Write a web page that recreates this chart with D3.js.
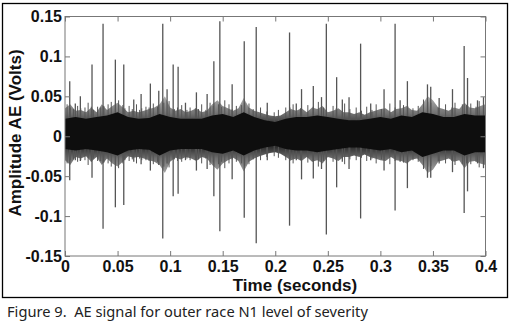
<!DOCTYPE html>
<html>
<head>
<meta charset="utf-8">
<script src="https://cdn.jsdelivr.net/npm/d3@7"></script>
<style>
  html, body { margin: 0; padding: 0; background: #fff; }
  svg { display: block; }
</style>
</head>
<body>
<svg id="chart" width="513" height="324"></svg>
<script>
// ---------- data ----------
const xTicks = [0, 0.05, 0.1, 0.15, 0.2, 0.25, 0.3, 0.35, 0.4];
const xTickLabels = ["0", "0.05", "0.1", "0.15", "0.2", "0.25", "0.3", "0.35", "0.4"];
const yTicks = [-0.15, -0.1, -0.05, 0, 0.05, 0.1, 0.15];
const yTickLabels = ["-0.15", "-0.1", "-0.05", "0", "0.05", "0.1", "0.15"];

// impulse spikes (time s, max V, min V)
const spikeTime = [0.0045,0.0098,0.0146,0.0257,0.0362,0.0479,0.0559,0.0654,0.0724,0.0812,0.0892,0.0930,0.0971,0.1029,0.1076,0.1146,0.1250,0.1352,0.1416,0.1473,0.1590,0.1705,0.1819,0.1924,0.2136,0.2200,0.2250,0.2362,0.2440,0.2486,0.2584,0.2638,0.2702,0.2812,0.2908,0.3035,0.3140,0.3188,0.3257,0.3448,0.3479,0.3559,0.3686,0.3797,0.3829,0.3924,0.3981];
const spikeMax = [0.069,0.041,0.050,0.090,0.141,0.096,0.090,0.046,0.053,0.066,0.057,0.141,0.059,0.090,0.087,0.042,0.055,0.053,0.094,0.144,0.065,0.119,0.137,0.042,0.130,0.041,0.059,0.063,0.049,0.141,0.074,0.046,0.049,0.116,0.041,0.059,0.141,0.045,0.069,0.065,0.062,0.048,0.059,0.113,0.073,0.045,0.049];
const spikeMin = [-0.055,-0.030,-0.031,-0.052,-0.116,-0.089,-0.086,-0.032,-0.035,-0.043,-0.036,-0.128,-0.034,-0.075,-0.072,-0.030,-0.043,-0.041,-0.075,-0.119,-0.054,-0.102,-0.134,-0.030,-0.112,-0.030,-0.054,-0.053,-0.041,-0.123,-0.064,-0.032,-0.041,-0.103,-0.030,-0.043,-0.093,-0.032,-0.065,-0.052,-0.052,-0.034,-0.045,-0.096,-0.069,-0.034,-0.040];

// small bursts in the noise fringe (set 1)
const minorTime = [0.002,0.012,0.019,0.022,0.031,0.041,0.044,0.051,0.061,0.068,0.077,0.084,0.099,0.111,0.119,0.130,0.138,0.152,0.156,0.163,0.175,0.186,0.203,0.210,0.217,0.231,0.241,0.255,0.266,0.277,0.287,0.296,0.309,0.322,0.336,0.341,0.362,0.371,0.386,0.394];
const minorUp = [0.040,0.038,0.036,0.042,0.037,0.040,0.043,0.045,0.038,0.040,0.037,0.041,0.044,0.039,0.036,0.040,0.042,0.045,0.040,0.038,0.041,0.036,0.033,0.036,0.040,0.039,0.043,0.038,0.041,0.036,0.037,0.040,0.041,0.039,0.038,0.046,0.040,0.042,0.041,0.044];
const minorDown = [-0.034,-0.032,-0.030,-0.036,-0.031,-0.034,-0.038,-0.040,-0.031,-0.034,-0.030,-0.035,-0.039,-0.032,-0.030,-0.034,-0.036,-0.040,-0.034,-0.032,-0.035,-0.030,-0.027,-0.030,-0.034,-0.033,-0.038,-0.032,-0.035,-0.030,-0.031,-0.034,-0.035,-0.033,-0.032,-0.041,-0.034,-0.036,-0.035,-0.039];

// small bursts in the noise fringe (set 2)
const burstTime = [0.005,0.008,0.015,0.025,0.027,0.034,0.037,0.048,0.055,0.057,0.064,0.071,0.073,0.080,0.088,0.094,0.104,0.107,0.116,0.124,0.127,0.134,0.141,0.146,0.149,0.159,0.168,0.171,0.179,0.192,0.199,0.214,0.224,0.236,0.246,0.258,0.271,0.282,0.292,0.301,0.314,0.326,0.331,0.345,0.348,0.355,0.368,0.378,0.382,0.391];
const burstUp = [0.036,0.034,0.035,0.037,0.033,0.036,0.038,0.041,0.039,0.035,0.034,0.033,0.035,0.036,0.037,0.042,0.034,0.036,0.033,0.035,0.034,0.033,0.038,0.040,0.037,0.034,0.039,0.042,0.034,0.031,0.030,0.036,0.035,0.037,0.036,0.035,0.034,0.032,0.033,0.034,0.036,0.038,0.035,0.043,0.042,0.036,0.036,0.040,0.039,0.037];
const burstDown = [-0.030,-0.029,-0.030,-0.032,-0.028,-0.031,-0.033,-0.036,-0.034,-0.030,-0.029,-0.028,-0.030,-0.031,-0.032,-0.038,-0.029,-0.031,-0.028,-0.030,-0.029,-0.028,-0.033,-0.035,-0.032,-0.029,-0.034,-0.037,-0.029,-0.026,-0.025,-0.031,-0.030,-0.032,-0.031,-0.030,-0.029,-0.027,-0.028,-0.029,-0.031,-0.033,-0.030,-0.038,-0.037,-0.031,-0.031,-0.035,-0.034,-0.032];

// noise fringe envelope, every 0.005 s
const fringeStep = 0.005;
const fringeUpper = [0.035,0.040,0.032,0.033,0.030,0.036,0.030,0.040,0.033,0.038,
 0.042,0.036,0.030,0.032,0.030,0.032,0.034,0.036,0.040,0.050,
 0.036,0.032,0.034,0.030,0.032,0.035,0.030,0.032,0.040,0.045,
 0.038,0.035,0.032,0.035,0.048,0.036,0.032,0.030,0.028,0.026,
 0.025,0.026,0.030,0.034,0.032,0.035,0.030,0.036,0.034,0.038,
 0.030,0.032,0.035,0.030,0.030,0.028,0.030,0.027,0.030,0.032,
 0.034,0.035,0.030,0.034,0.035,0.038,0.033,0.032,0.040,0.050,
 0.045,0.036,0.034,0.032,0.036,0.034,0.042,0.036,0.035,0.038,0.040];
const fringeLower = [-0.030,-0.036,-0.026,-0.028,-0.025,-0.032,-0.026,-0.036,-0.028,-0.034,
 -0.038,-0.032,-0.025,-0.027,-0.026,-0.028,-0.030,-0.032,-0.036,-0.046,
 -0.032,-0.027,-0.029,-0.026,-0.028,-0.031,-0.026,-0.028,-0.036,-0.042,
 -0.034,-0.030,-0.027,-0.031,-0.044,-0.032,-0.028,-0.025,-0.023,-0.021,
 -0.020,-0.022,-0.026,-0.030,-0.028,-0.031,-0.026,-0.032,-0.030,-0.034,
 -0.026,-0.028,-0.031,-0.026,-0.026,-0.024,-0.026,-0.023,-0.026,-0.028,
 -0.030,-0.031,-0.026,-0.030,-0.031,-0.034,-0.029,-0.028,-0.036,-0.046,
 -0.042,-0.032,-0.030,-0.028,-0.032,-0.030,-0.040,-0.032,-0.031,-0.034,-0.036];

// solid core of the noise band, every 0.01 s
const coreStep = 0.01;
const coreUpper = [0.022,0.024,0.022,0.024,0.026,0.030,0.024,0.022,0.023,0.028,0.024,0.022,0.022,0.022,0.026,0.028,0.024,0.030,0.024,0.020,0.018,0.022,0.024,0.024,0.026,0.024,0.022,0.020,0.020,0.022,0.024,0.022,0.026,0.024,0.030,0.028,0.024,0.024,0.028,0.026,0.026];
const coreLower = [-0.016,-0.018,-0.016,-0.018,-0.020,-0.024,-0.018,-0.016,-0.017,-0.024,-0.018,-0.016,-0.016,-0.016,-0.020,-0.022,-0.018,-0.024,-0.018,-0.014,-0.012,-0.016,-0.018,-0.018,-0.020,-0.018,-0.016,-0.014,-0.014,-0.016,-0.018,-0.016,-0.020,-0.018,-0.026,-0.022,-0.018,-0.018,-0.024,-0.020,-0.020];

const xLabel = "Time (seconds)";
const yLabel = "Amplitude AE (Volts)";
const caption = "Figure 9.  AE signal for outer race N1 level of severity";

// ---------- drawing ----------
const svg = d3.select("#chart");
const W = 513, H = 324;
const L = 65, R = 485.5, T = 16.5, B = 256;

svg.append("rect").attr("width", W).attr("height", H).attr("fill", "#fff");
svg.append("rect").attr("x", 2.5).attr("y", 3.5).attr("width", 505).attr("height", 294)
  .attr("fill", "none").attr("stroke", "#000").attr("stroke-width", 1.3);

const x = d3.scaleLinear().domain([0, 0.4]).range([L, R]);
const y = d3.scaleLinear().domain([-0.15, 0.15]).range([B, T]);

// vertical gradient: dark near the band centre, lighter toward the fringe tips
const defs = svg.append("defs");
const grad = defs.append("linearGradient").attr("id", "fringeGrad")
  .attr("gradientUnits", "userSpaceOnUse")
  .attr("x1", 0).attr("x2", 0).attr("y1", y(0.05)).attr("y2", y(-0.05));
[[0, "#b0b0b0"], [0.22, "#707070"], [0.36, "#303030"], [0.5, "#111"], [0.64, "#303030"], [0.78, "#707070"], [1, "#b0b0b0"]]
  .forEach(([o, c]) => grad.append("stop").attr("offset", o).attr("stop-color", c));

const plot = svg.append("g");

// fringe
const fringe = fringeUpper.map((u, i) => ({ t: i * fringeStep, u, l: fringeLower[i] }));
plot.append("path").datum(fringe)
  .attr("fill", "url(#fringeGrad)")
  .attr("d", d3.area().x(d => x(d.t)).y0(d => y(d.l)).y1(d => y(d.u)));

// small bursts
const minor = minorTime.map((t, i) => ({ t, u: minorUp[i], l: minorDown[i] }))
  .concat(burstTime.map((t, i) => ({ t, u: burstUp[i], l: burstDown[i] })));
plot.selectAll("line.minor").data(minor).join("line").attr("class", "minor")
  .attr("x1", d => x(d.t)).attr("x2", d => x(d.t))
  .attr("y1", d => y(d.u)).attr("y2", d => y(d.l))
  .attr("stroke", "#555").attr("stroke-width", 1);

// impulse spikes
const spikes = spikeTime.map((t, i) => ({ t, u: spikeMax[i], l: spikeMin[i] }));
plot.selectAll("line.spike").data(spikes).join("line").attr("class", "spike")
  .attr("x1", d => x(d.t)).attr("x2", d => x(d.t))
  .attr("y1", d => y(d.u)).attr("y2", d => y(d.l))
  .attr("stroke", "#555").attr("stroke-width", 1.3);

// core
const core = coreUpper.map((u, i) => ({ t: i * coreStep, u, l: coreLower[i] }));
plot.append("path").datum(core)
  .attr("fill", "#0e0e0e")
  .attr("d", d3.area().x(d => x(d.t)).y0(d => y(d.l)).y1(d => y(d.u)));

// frame
svg.append("rect").attr("x", L).attr("y", T).attr("width", R - L).attr("height", B - T)
  .attr("fill", "none").attr("stroke", "#777").attr("stroke-width", 1);

const font = "'Liberation Sans', Arial, Helvetica, sans-serif";
const tickColor = "#777";

function styleAxis(g) {
  g.select(".domain").remove();
  g.selectAll(".tick line").attr("stroke", tickColor);
  g.selectAll(".tick text").attr("fill", "#111").attr("font-family", font)
    .attr("font-weight", "bold").attr("font-size", 16);
}

svg.append("g").attr("transform", `translate(0,${B})`)
  .call(d3.axisBottom(x).tickValues(xTicks).tickFormat((d, i) => xTickLabels[i]).tickSize(-5).tickPadding(4.5))
  .call(styleAxis);
svg.append("g").attr("transform", `translate(0,${T})`)
  .call(d3.axisTop(x).tickValues(xTicks).tickFormat("").tickSize(-5))
  .call(styleAxis);
svg.append("g").attr("transform", `translate(${L},0)`)
  .call(d3.axisLeft(y).tickValues(yTicks).tickFormat((d, i) => yTickLabels[i]).tickSize(-5).tickPadding(3))
  .call(styleAxis);
svg.append("g").attr("transform", `translate(${R},0)`)
  .call(d3.axisRight(y).tickValues(yTicks).tickFormat("").tickSize(-5))
  .call(styleAxis);

// titles
svg.append("text").attr("x", 295).attr("y", 291).attr("text-anchor", "middle")
  .attr("font-family", font).attr("font-weight", "bold").attr("font-size", 17).attr("fill", "#111")
  .text(xLabel);
svg.append("text").attr("transform", "translate(21,133) rotate(-90)").attr("text-anchor", "middle")
  .attr("font-family", font).attr("font-weight", "bold").attr("font-size", 17).attr("fill", "#111")
  .text(yLabel);

// caption
const cap = svg.append("text").attr("x", 7).attr("y", 317)
  .attr("font-family", "'Noto Sans', 'DejaVu Sans', sans-serif").attr("font-size", 12)
  .attr("fill", "#222").style("white-space", "pre").text(caption);
const w = cap.node().getComputedTextLength();
if (w > 0) cap.attr("font-size", 12 * 361 / w);
</script>
</body>
</html>
